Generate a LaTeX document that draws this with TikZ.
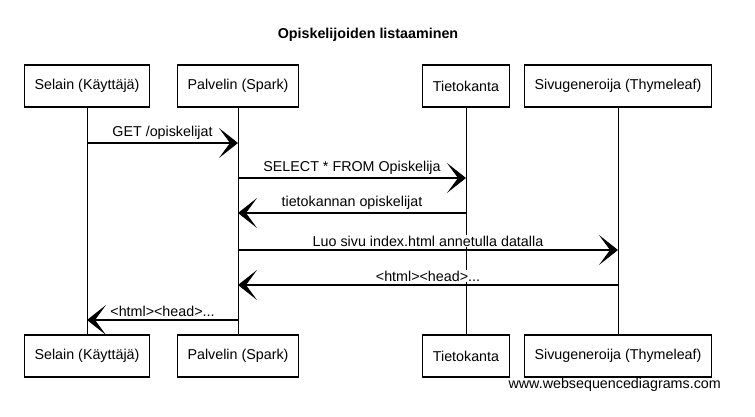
\documentclass[tikz,border=0pt]{standalone}
\usepackage{fontspec}
\setmainfont{Liberation Sans}
\usetikzlibrary{arrows.meta}

\tikzset{
  actor/.style={draw=black,fill=white,line width=1.1pt,minimum height=42pt,inner xsep=10pt,font=\fontsize{14.3}{17}\selectfont},
  msg/.style={line width=1.3pt,-{Stealth[length=19pt,width=30pt,inset=11pt]}},
  msgtext/.style={above=2pt,fill=white,font=\fontsize{14.3}{17}\selectfont,inner sep=1pt}
}

\begin{document}
\begin{tikzpicture}[x=1pt,y=-1pt]
\useasboundingbox (0,0) rectangle (755,417);
\node[font=\bfseries\fontsize{14.3}{17}\selectfont] (title) at (368,35) {Opiskelijoiden listaaminen};
% osallistujat ylhaalla ja alhaalla
\node[actor] (selainT) at (87,86) {Selain (Käyttäjä)};
\node[actor] (palvelinT) at (238,86) {Palvelin (Spark)};
\node[actor] (tietoT) at (466,86) {Tietokanta};
\node[actor] (sivuT) at (618,86) {Sivugeneroija (Thymeleaf)};
\node[actor] (selainB) at (87,356) {Selain (Käyttäjä)};
\node[actor] (palvelinB) at (238,356) {Palvelin (Spark)};
\node[actor] (tietoB) at (466,356) {Tietokanta};
\node[actor] (sivuB) at (618,356) {Sivugeneroija (Thymeleaf)};
\foreach \p in {selain,palvelin,tieto,sivu}
\draw[line width=0.9pt] (\p T) -- (\p B);
% viestit
\foreach \a/\b/\y/\t in {selain/palvelin/143/{GET /opiskelijat},
                        palvelin/tieto/178/{SELECT * FROM Opiskelija},
                        tieto/palvelin/213/{tietokannan opiskelijat},
                        palvelin/sivu/250/{Luo sivu index.html annetulla datalla},
                        sivu/palvelin/285/{<html><head>...},
                        palvelin/selain/320/{<html><head>...}}
\draw[msg] (\a T |- 0,\y) -- node[msgtext] {\t} (\b T |- 0,\y);
\node[anchor=east,font=\fontsize{14.3}{17}\selectfont,inner sep=0pt] (wsd) at (721,385) {www.websequencediagrams.com};
\end{tikzpicture}
\end{document}
